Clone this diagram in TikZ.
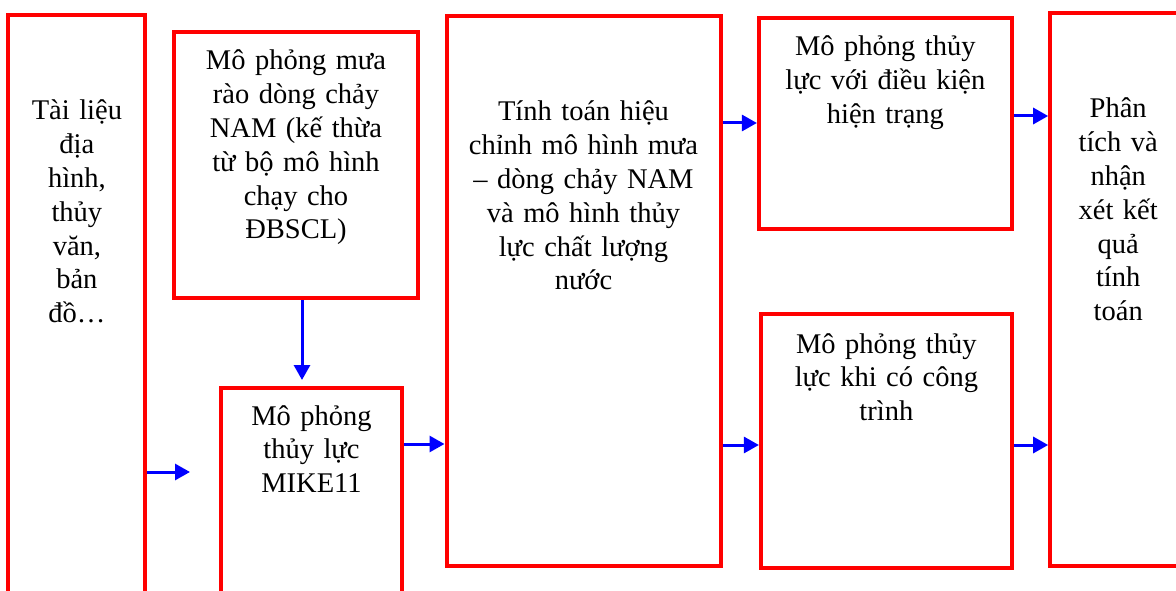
\documentclass[tikz,border=0pt]{standalone}
\usepackage{fontspec}
\setmainfont{Liberation Serif}
\usetikzlibrary{arrows.meta,positioning}

\begin{document}
\begin{tikzpicture}[x=1pt, y=-1pt,
  box/.style={rectangle, draw=red, line width=4pt, inner sep=0pt},
  boxtext/.style={anchor=base, inner sep=0pt, text width=300pt, align=center,
    font=\fontsize{28.5}{33.8}\selectfont},
  flow/.style={draw=blue, line width=3pt, -{Triangle[length=15pt,width=16pt]}}]
  \useasboundingbox (0,0) rectangle (1176,591);
  \clip (0,0) rectangle (1176,591);
  % boxes
  \node [box, minimum width=137, minimum height=625] (tailieu) at (76.9,327.5) {};
  \node [box, minimum width=244, minimum height=266] (nam) at (295.9,165) {};
  \node [box, minimum width=181, minimum height=252] (mike) at (311.5,513.8) {};
  \node [box, minimum width=274, minimum height=550] (hieuchinh) at (583.5,290.8) {};
  \node [box, minimum width=253, minimum height=211] (hientrang) at (885.4,123.8) {};
  \node [box, minimum width=251, minimum height=254] (congtrinh) at (886.4,440.7) {};
  \node [box, minimum width=136, minimum height=553] (phantich) at (1118.2,289.4) {};
  % texts
  \node [boxtext] (tailieu-t) at (76.9,120) {Tài liệu\\địa\\hình,\\thủy\\văn,\\bản\\đồ…};
  \node [boxtext] (nam-t) at (296,70) {Mô phỏng mưa\\rào dòng chảy\\NAM (kế thừa\\từ bộ mô hình\\chạy cho\\ĐBSCL)};
  \node [boxtext] (mike-t) at (311.5,425) {Mô phỏng\\thủy lực\\MIKE11};
  \node [boxtext] (hieuchinh-t) at (583.5,121) {Tính toán hiệu\\chỉnh mô hình mưa\\– dòng chảy NAM\\và mô hình thủy\\lực chất lượng\\nước};
  \node [boxtext] (hientrang-t) at (885.4,56) {Mô phỏng thủy\\lực với điều kiện\\hiện trạng};
  \node [boxtext] (congtrinh-t) at (886.4,353) {Mô phỏng thủy\\lực khi có công\\trình};
  \node [boxtext] (phantich-t) at (1118.2,118) {Phân\\tích và\\nhận\\xét kết\\quả\\tính\\toán};
  % arrows
  \coordinate (in) at (190,472);
  \coordinate (down) at (302,380);
  \coordinate (r1) at (0,444);
  \coordinate (r2) at (0,123);
  \coordinate (r3) at (0,445);
  \coordinate (r4) at (0,116);
  \draw [flow] (tailieu.east |- in) -- (in);
  \draw [flow] (nam.south -| down) -- (down);
  \draw [flow] (mike.east |- r1) -- (hieuchinh.west |- r1);
  \draw [flow] (hieuchinh.east |- r2) -- (hientrang.west |- r2);
  \draw [flow] (hieuchinh.east |- r3) -- (congtrinh.west |- r3);
  \draw [flow] (hientrang.east |- r4) -- (phantich.west |- r4);
  \draw [flow] (congtrinh.east |- r3) -- (phantich.west |- r3);
\end{tikzpicture}
\end{document}
